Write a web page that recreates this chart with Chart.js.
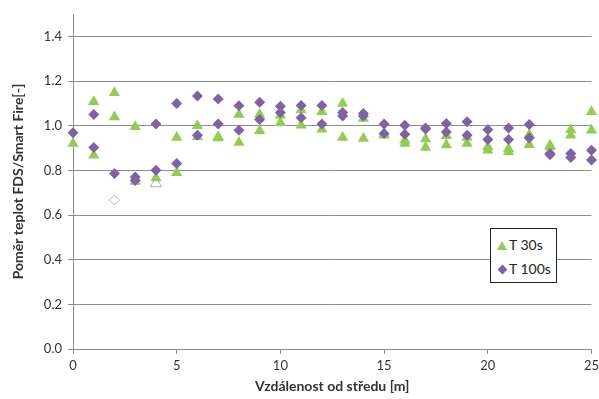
<!DOCTYPE html>
<html>
<head>
<meta charset="utf-8">
<script src="https://cdn.jsdelivr.net/npm/chart.js@4/dist/chart.umd.min.js"></script>
<style>
  body { margin: 0; background: #fff; }
  #wrap { position: relative; width: 599px; height: 399px; }
  #legend {
    position: absolute; left: 490px; top: 228px; width: 67px; height: 55px;
    border: 1px solid #222; background: #fff; box-sizing: border-box;
    font-family: Lato, 'Liberation Sans', sans-serif; font-size: 14px; color: #222;
  }
  #legend div { position: absolute; left: 6px; white-space: nowrap; }
  .tri { display: inline-block; width: 0; height: 0; border-left: 5px solid transparent;
         border-right: 5px solid transparent; border-bottom: 9px solid #92cd4f; margin-right: 2px; }
  .dia { display: inline-block; width: 7px; height: 7px; background: #7f62a6;
         transform: rotate(45deg); margin: 0 3px 1px 2px; }
</style>
</head>
<body>
<div id="wrap">
  <canvas id="chart" width="599" height="399"></canvas>
  <div id="legend"></div>
</div>
<script>
Chart.defaults.font.family = "Lato, 'Liberation Sans', sans-serif";
Chart.defaults.color = '#333';

// vzdálenost od středu [m]
const distances = [0, 1, 2, 3, 4, 5, 6, 7, 8, 9, 10, 11, 12, 13, 14, 15, 16, 17, 18, 19, 20, 21, 22, 23, 24, 25];

// T 30s - dvě měření pro každou vzdálenost
const t30A = [0.92, 1.107, 1.147, 0.995, 0.766, 0.947, 1.00, 0.95, 1.05, 1.05, 1.047, 1.07, 1.062, 1.099, 1.032, 0.965, 0.935, 0.94, 0.955, 0.947, 0.906, 0.897, 0.96, 0.912, 0.982, 1.062];
const t30B = [null, 0.868, 1.039, 0.75, null, 0.789, 0.95, 0.945, 0.925, 0.977, 1.013, 1.002, 0.984, 0.947, 0.942, 0.957, 0.92, 0.902, 0.913, 0.92, 0.89, 0.883, 0.915, 0.905, 0.957, 0.98];

// T 100s
const t100A = [0.968, 1.05, 0.786, 0.77, 1.007, 1.099, 1.133, 1.119, 1.089, 1.105, 1.087, 1.09, 1.09, 1.059, 1.054, 1.007, 1.002, 0.99, 1.01, 1.017, 0.982, 0.99, 1.005, 0.875, 0.875, 0.89];
const t100B = [null, 0.902, null, 0.755, 0.80, 0.831, 0.957, 1.007, 0.98, 1.028, 1.059, 1.036, 1.007, 1.043, 1.043, 0.965, 0.962, 0.985, 0.972, 0.957, 0.938, 0.938, 0.945, 0.87, 0.857, 0.846];

// vyřazené hodnoty (prázdné značky)
const outlierX = [2, 4];
const outlierY = [0.667, 0.741];
const outlierStyle = ['rectRot', 'triangle'];

const yTicks = [0, 0.2, 0.4, 0.6, 0.8, 1.0, 1.2, 1.4];
const xTicks = [0, 5, 10, 15, 20, 25];

function toPoints(...series) {
    const pts = [];
    series.forEach(s => s.forEach((v, i) => { if (v !== null) pts.push({ x: distances[i], y: v }); }));
    return pts;
}

const green = '#92cd4f';
const purple = '#7f62a6';

const ctx = document.getElementById('chart').getContext('2d');
new Chart(ctx, {
    type: 'scatter',
    data: {
        datasets: [{
            label: 'T 100s',
            data: toPoints(t100A, t100B),
            pointStyle: 'rectRot',
            pointRadius: 5.5,
            backgroundColor: purple,
            borderColor: purple,
            borderWidth: 0,
            clip: false,
            order: 0
        }, {
            label: 'T 30s',
            data: toPoints(t30A, t30B),
            pointStyle: 'triangle',
            pointRadius: 6.5,
            backgroundColor: green,
            borderColor: green,
            borderWidth: 0,
            clip: false,
            order: 1
        }, {
            label: 'vyřazeno',
            data: outlierX.map((x, i) => ({ x: x, y: outlierY[i] })),
            pointStyle: outlierStyle,
            pointRadius: [5, 6.5],
            backgroundColor: '#fff',
            borderColor: '#b0b0b0',
            borderWidth: 1,
            order: 2
        }]
    },
    options: {
        responsive: false,
        animation: false,
        layout: { padding: { top: 14, right: 0, left: 10, bottom: 0 } },
        plugins: {
            legend: { display: false },
            tooltip: { enabled: false }
        },
        scales: {
            x: {
                type: 'linear',
                min: 0,
                max: 25,
                afterBuildTicks: s => { s.ticks = xTicks.map(v => ({ value: v })); },
                afterFit: s => { s.height = 50; s.paddingRight = 6; },
                grid: { drawOnChartArea: false, drawTicks: true, tickLength: 5, color: '#8c8c8c' },
                border: { color: '#8c8c8c' },
                ticks: { font: { size: 13 }, color: '#333', padding: 4 },
                title: {
                    display: true,
                    text: 'Vzdálenost od středu [m]',
                    font: { size: 14, weight: 'bold' },
                    color: '#333',
                    padding: { top: 0, bottom: 4 }
                }
            },
            y: {
                min: 0,
                max: 1.5,
                afterBuildTicks: s => { s.ticks = yTicks.map(v => ({ value: v })); },
                afterFit: s => { s.width = 63; },
                grid: { color: '#8c8c8c', tickLength: 5 },
                border: { color: '#8c8c8c' },
                ticks: {
                    font: { size: 13 },
                    color: '#333',
                    padding: 6,
                    callback: v => v.toFixed(1)
                },
                title: {
                    display: true,
                    text: 'Poměr teplot FDS/Smart Fire[-]',
                    font: { size: 14, weight: 'bold' },
                    color: '#333',
                    padding: { top: 0, bottom: 4 }
                }
            }
        }
    }
});

// legenda jako v Excelu
const legend = document.getElementById('legend');
legend.innerHTML =
    '<div style="top:7px"><span class="tri"></span>T 30s</div>' +
    '<div style="top:31px"><span class="dia"></span>T 100s</div>';
</script>
</body>
</html>
